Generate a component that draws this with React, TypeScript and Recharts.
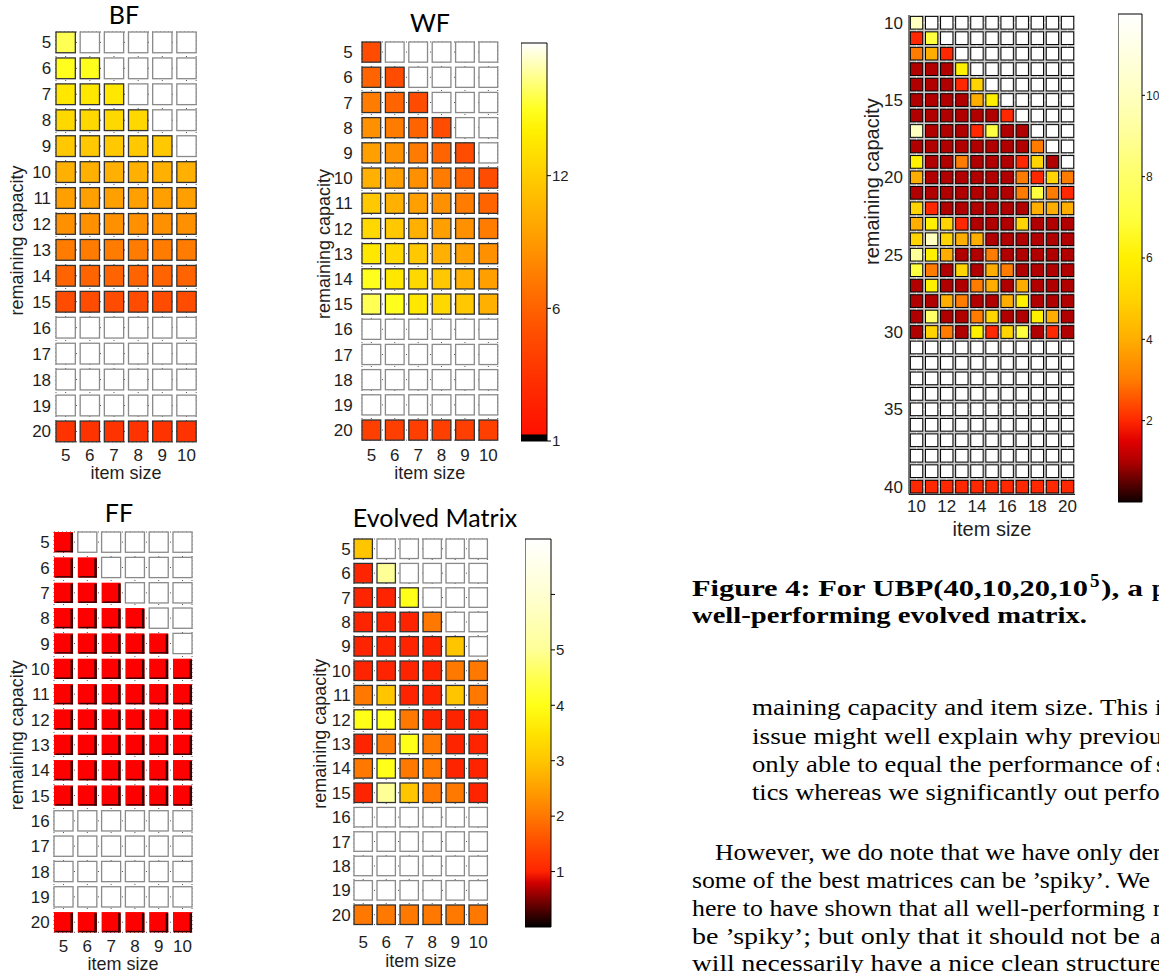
import React from 'react';
import { ScatterChart, Scatter, XAxis, YAxis, CartesianGrid, BarChart, Bar } from 'recharts';

type Val = number | null;
const N = null;

// small matrices: columns = item size, rows = remaining capacity
const smallItemSizes = [5, 6, 7, 8, 9, 10];
const smallCapacities = [5, 6, 7, 8, 9, 10, 11, 12, 13, 14, 15, 16, 17, 18, 19, 20];

const bfValues: Val[][] = [
  [15.7, N, N, N, N, N],
  [14.9, 14.9, N, N, N, N],
  [13.5, 13.5, 13.5, N, N, N],
  [12.6, 12.6, 12.6, 12.6, N, N],
  [11.7, 11.7, 11.7, 11.7, 11.7, N],
  [10.3, 10.3, 10.3, 10.3, 10.3, 10.3],
  [9.3, 9.3, 9.3, 9.3, 9.3, 9.3],
  [8.5, 8.5, 8.5, 8.5, 8.5, 8.5],
  [7.4, 7.4, 7.4, 7.4, 7.4, 7.4],
  [6.1, 6.1, 6.1, 6.1, 6.1, 6.1],
  [4.7, 4.7, 4.7, 4.7, 4.7, 4.7],
  [N, N, N, N, N, N],
  [N, N, N, N, N, N],
  [N, N, N, N, N, N],
  [N, N, N, N, N, N],
  [3, 3, 3, 3, 3, 3],
];

const wfValues: Val[][] = [
  [4.7, N, N, N, N, N],
  [6.1, 4.7, N, N, N, N],
  [7.4, 6.1, 4.7, N, N, N],
  [8.5, 7.4, 6.1, 4.7, N, N],
  [9.3, 8.5, 7.4, 6.1, 4.7, N],
  [10.3, 9.3, 8.5, 7.4, 6.1, 4.7],
  [11.7, 10.3, 9.3, 8.5, 7.4, 6.1],
  [12.6, 11.7, 10.3, 9.3, 8.5, 7.4],
  [13.5, 12.6, 11.7, 10.3, 9.3, 8.5],
  [14.9, 13.5, 12.6, 11.7, 10.3, 9.3],
  [15.7, 14.9, 13.5, 12.6, 11.7, 10.3],
  [N, N, N, N, N, N],
  [N, N, N, N, N, N],
  [N, N, N, N, N, N],
  [N, N, N, N, N, N],
  [3.8, 3.8, 3.8, 3.8, 3.8, 3.8],
];

const ffValues: Val[][] = [
  [1, N, N, N, N, N],
  [1, 1, N, N, N, N],
  [1, 1, 1, N, N, N],
  [1, 1, 1, 1, N, N],
  [1, 1, 1, 1, 1, N],
  [1, 1, 1, 1, 1, 1],
  [1, 1, 1, 1, 1, 1],
  [1, 1, 1, 1, 1, 1],
  [1, 1, 1, 1, 1, 1],
  [1, 1, 1, 1, 1, 1],
  [1, 1, 1, 1, 1, 1],
  [N, N, N, N, N, N],
  [N, N, N, N, N, N],
  [N, N, N, N, N, N],
  [N, N, N, N, N, N],
  [1, 1, 1, 1, 1, 1],
];

const evolvedValues: Val[][] = [
  [3, N, N, N, N, N],
  [1, 5, N, N, N, N],
  [1, 1, 4, N, N, N],
  [1, 1, 1, 2, N, N],
  [1, 1, 1, 1, 3, N],
  [1, 1, 1, 1, 2, 2],
  [2, 3, 1, 1, 3, 2],
  [4, 4, 2, 1, 1, 1],
  [1, 2, 4, 2, 1, 1],
  [2, 4, 2, 2, 1, 1],
  [1, 5, 3, 2, 2, 1],
  [N, N, N, N, N, N],
  [N, N, N, N, N, N],
  [N, N, N, N, N, N],
  [N, N, N, N, N, N],
  [2, 2, 2, 2, 2, 2],
];

// large matrix, UBP(40,10,20,10^5)
const bigItemSizes = [10, 11, 12, 13, 14, 15, 16, 17, 18, 19, 20];
const bigCapacities = [
  10, 11, 12, 13, 14, 15, 16, 17, 18, 19, 20, 21, 22, 23, 24, 25,
  26, 27, 28, 29, 30, 31, 32, 33, 34, 35, 36, 37, 38, 39, 40,
];
const bigValues: Val[][] = [
  [10, N, N, N, N, N, N, N, N, N, N],
  [2, 7, N, N, N, N, N, N, N, N, N],
  [3, 4, 2, N, N, N, N, N, N, N, N],
  [1, 1, 1, 6, N, N, N, N, N, N, N],
  [1, 1, 1, 2, 5, N, N, N, N, N, N],
  [1, 1, 1, 1, 4, 6, N, N, N, N, N],
  [1, 1, 1, 1, 1, 1, 2, N, N, N, N],
  [10, 1, 1, 1, 2, 7, 1, 1, N, N, N],
  [1, 1, 1, 1, 1, 1, 1, 1, 3, N, N],
  [6, 1, 1, 3, 1, 1, 1, 2, 5, 1, N],
  [4, 1, 1, 1, 1, 1, 1, 3, 2, 5, 3],
  [1, 1, 1, 1, 1, 1, 1, 3, 7, 3, 2],
  [5, 2, 1, 1, 1, 1, 1, 1, 4, 4, 4],
  [4, 6, 5, 2, 1, 1, 1, 5, 1, 1, 1],
  [5, 10, 5, 4, 4, 1, 1, 1, 1, 1, 1],
  [9, 6, 4, 1, 1, 3, 1, 1, 1, 1, 1],
  [7, 3, 1, 5, 1, 4, 3, 1, 1, 1, 1],
  [1, 6, 1, 1, 3, 4, 1, 4, 1, 1, 1],
  [1, 1, 4, 3, 1, 1, 4, 6, 1, 1, 1],
  [1, 8, 1, 1, 3, 5, 1, 1, 6, 4, 1],
  [1, 5, 3, 1, 6, 2, 5, 7, 1, 2, 1],
  [N, N, N, N, N, N, N, N, N, N, N],
  [N, N, N, N, N, N, N, N, N, N, N],
  [N, N, N, N, N, N, N, N, N, N, N],
  [N, N, N, N, N, N, N, N, N, N, N],
  [N, N, N, N, N, N, N, N, N, N, N],
  [N, N, N, N, N, N, N, N, N, N, N],
  [N, N, N, N, N, N, N, N, N, N, N],
  [N, N, N, N, N, N, N, N, N, N, N],
  [N, N, N, N, N, N, N, N, N, N, N],
  [2, 2, 2, 2, 2, 2, 2, 2, 2, 2, 2],
];

// tick labels
const smallXTicks = [5, 6, 7, 8, 9, 10];
const smallYTicks = [5, 6, 7, 8, 9, 10, 11, 12, 13, 14, 15, 16, 17, 18, 19, 20];
const bigXTicks = [10, 12, 14, 16, 18, 20];
const bigYTicks = [10, 15, 20, 25, 30, 35, 40];
const wfBarTicks = [0, 6, 12];
const wfBarLabels = ['1', '6', '12'];
const evoBarTicks = [1, 2, 3, 4, 5, 6];
const evoBarLabels = ['1', '2', '3', '4', '5', ''];
const bigBarTicks = [2, 4, 6, 8, 10];
const bigBarLabels = ['2', '4', '6', '8', '10'];

type Stop = [number, string];
const WF_MAX = 18;
const wfStops: Stop[] = [
  [0, '#000000'], [0.27, '#000000'], [0.32, '#ff1000'], [3, '#ff3300'], [5, '#ff5000'],
  [7, '#ff7400'], [9, '#ff9a00'], [11, '#ffbc00'], [12.5, '#ffd600'], [14, '#fff000'],
  [15, '#ffff20'], [16.5, '#ffff90'], [18, '#ffffff'],
];
const EVO_MAX = 7;
const evoStops: Stop[] = [
  [0, '#000000'], [0.5, '#800000'], [0.8, '#d00000'], [1, '#ff2400'], [1.5, '#ff4c00'],
  [2, '#ff7800'], [2.5, '#ffa000'], [3, '#ffc600'], [3.5, '#ffe400'], [4, '#ffff18'],
  [4.5, '#ffff50'], [5, '#ffff98'], [6, '#ffffd2'], [7, '#ffffff'],
];
const BIG_MAX = 12;
const bigStops: Stop[] = [
  [0, '#100000'], [0.5, '#600000'], [1, '#b00000'], [1.5, '#e00000'], [2, '#ff2800'],
  [3, '#ff7c00'], [4, '#ffae00'], [5, '#ffd400'], [6, '#fff000'], [7, '#ffff40'],
  [8, '#ffff68'], [9, '#ffff98'], [10, '#ffffc0'], [11, '#ffffe0'], [12, '#ffffff'],
];

const SANS = '"Liberation Sans", Arial, sans-serif';
const SERIF = '"Liberation Serif", "Times New Roman", serif';
const TITLE = 'Lato, "Open Sans", sans-serif';
const INK = '#1e1e1e';

const rgb = (h: string) => [1, 3, 5].map(i => parseInt(h.slice(i, i + 2), 16));

const colorScale = (stops: Stop[]) => (v: number) => {
  if (v <= stops[0][0]) return stops[0][1];
  for (let i = 1; i < stops.length; i++) {
    const [v1, c1] = stops[i];
    if (v <= v1) {
      const [v0, c0] = stops[i - 1];
      const t = (v - v0) / (v1 - v0);
      const a = rgb(c0);
      const b = rgb(c1);
      const m = a.map((x, k) => Math.round(x + (b[k] - x) * t));
      return `rgb(${m[0]},${m[1]},${m[2]})`;
    }
  }
  return stops[stops.length - 1][1];
};

type HeatProps = {
  plot: { x: number; y: number; w: number; h: number };
  xs: number[];
  ys: number[];
  values: Val[][];
  xTicks: number[];
  yTicks: number[];
  color: (v: number) => string;
  yAxisW: number;
  xAxisH: number;
  padTop: number;
  padRight: number;
  yTickGap: number;
  xTickGap: number;
  tickFont: number;
  labelFont: number;
  yLabelX: number;
  yLabelY: number;
  xLabelBase: number;
  cellFrac: number;
  shadow?: boolean;
  big?: boolean;
};

const Heatmap = (p: HeatProps) => {
  const pitchX = p.plot.w / p.xs.length;
  const pitchY = p.plot.h / p.ys.length;
  // small charts: trim the plot to the outer cell edges so grid dots only show between cells
  const d = p.big ? 0 : (1 - p.cellFrac) / 2;
  const inX = d * pitchX;
  const inY = d * pitchY;
  const plotX = p.plot.x + inX;
  const plotY = p.plot.y + inY;
  const plotW = p.plot.w - 2 * inX;
  const plotH = p.plot.h - 2 * inY;

  const left = plotX - p.yAxisW;
  const top = plotY - p.padTop;
  const width = p.yAxisW + plotW + p.padRight;
  const height = p.padTop + plotH + p.xAxisH;
  const cw = pitchX * p.cellFrac;
  const ch = pitchY * p.cellFrac;
  const cells = p.ys.flatMap((y, r) => p.xs.map((x, c) => ({ x, y, v: p.values[r][c] })));
  const textStyle = { fill: INK, fontFamily: SANS };
  const lx = p.yLabelX - left;
  const ly = p.yLabelY - top;

  const shape = (s: any) => {
    const { cx, cy, payload } = s;
    if (cx == null || cy == null) return <g />;
    const v: Val = payload.v;
    const empty = v === null;
    const x0 = cx - cw / 2;
    const y0 = cy - ch / 2;
    if (p.shadow && !empty) {
      return (
        <g>
          <rect x={x0} y={y0} width={cw} height={ch} fill={p.color(v as number)} />
          <rect x={x0 + cw - 2.5} y={y0 + 1} width={2.5} height={ch - 1} fill="#3a0000" />
          <rect x={x0 + 1} y={y0 + ch - 1.5} width={cw - 1} height={1.5} fill="#3a0000" />
        </g>
      );
    }
    return (
      <rect
        x={x0}
        y={y0}
        width={cw}
        height={ch}
        fill={empty ? '#ffffff' : p.color(v as number)}
        stroke={p.big ? '#000' : empty ? '#8a8a8a' : '#333'}
        strokeWidth={p.big ? 1 : 1.3}
      />
    );
  };

  return (
    <div style={{ position: 'absolute', left, top }}>
      <ScatterChart
        width={width}
        height={height}
        margin={{ top: p.padTop, right: p.padRight, bottom: 0, left: 0 }}
      >
        <CartesianGrid
          stroke={p.big ? '#ffffff' : '#555'}
          strokeDasharray={p.big ? undefined : '1 3'}
          fill={p.big ? '#c8c8c8' : 'none'}
        />
        <XAxis
          type="number"
          dataKey="x"
          domain={[p.xs[0] - 0.5 + d, p.xs[p.xs.length - 1] + 0.5 - d]}
          ticks={p.xTicks}
          interval={0}
          height={p.xAxisH}
          axisLine={p.big ? { stroke: '#000' } : false}
          tickLine={false}
          tickSize={0}
          tickMargin={p.xTickGap + inY}
          tick={{ ...textStyle, fontSize: p.tickFont }}
          label={{
            value: 'item size',
            position: 'insideBottom',
            offset: top + height - p.xLabelBase,
            ...textStyle,
            fontSize: p.labelFont,
          }}
        />
        <YAxis
          type="number"
          dataKey="y"
          reversed
          domain={[p.ys[0] - 0.5 + d, p.ys[p.ys.length - 1] + 0.5 - d]}
          ticks={p.yTicks}
          interval={0}
          width={p.yAxisW}
          axisLine={p.big ? { stroke: '#000' } : false}
          tickLine={false}
          tickSize={0}
          tickMargin={p.yTickGap + inX}
          tick={{ ...textStyle, fontSize: p.tickFont }}
          label={{
            value: 'remaining capacity',
            content: () => (
              <text
                x={lx}
                y={ly}
                transform={`rotate(-90 ${lx} ${ly})`}
                textAnchor="middle"
                dominantBaseline="central"
                fill={INK}
                fontFamily={SANS}
                fontSize={p.labelFont}
              >
                remaining capacity
              </text>
            ),
          }}
        />
        <Scatter data={cells} shape={shape} isAnimationActive={false} />
      </ScatterChart>
    </div>
  );
};

type BarProps = {
  id: string;
  x: number;
  y: number;
  w: number;
  h: number;
  max: number;
  stops: Stop[];
  ticks: number[];
  labels: string[];
  axisW: number;
  fontSize: number;
  tickSize?: number;
};

const ColorBar = (p: BarProps) => {
  const data = [{ name: 'bar', v: p.max }];
  return (
    <div style={{ position: 'absolute', left: p.x, top: p.y - 10 }}>
      <BarChart
        width={p.w + p.axisW}
        height={p.h + 20}
        data={data}
        margin={{ top: 10, right: 0, bottom: 10, left: 0 }}
        barCategoryGap={0}
      >
        <defs>
          <linearGradient id={p.id} x1="0" y1="1" x2="0" y2="0">
            {p.stops.map(([v, c]) => (
              <stop key={v} offset={v / p.max} stopColor={c} />
            ))}
          </linearGradient>
        </defs>
        <XAxis dataKey="name" hide />
        <YAxis
          yAxisId="l"
          orientation="left"
          width={0}
          mirror
          domain={[0, p.max]}
          ticks={p.ticks}
          interval={0}
          axisLine={false}
          tick={false}
          tickSize={4}
          tickLine={{ stroke: '#000' }}
        />
        <YAxis
          yAxisId="r"
          orientation="right"
          width={p.axisW}
          domain={[0, p.max]}
          ticks={p.ticks}
          interval={0}
          axisLine={false}
          tickSize={p.tickSize ?? 4}
          tickMargin={1}
          tickLine={{ stroke: '#000' }}
          tickFormatter={(v: number) => p.labels[p.ticks.indexOf(v)] ?? ''}
          tick={{ fill: INK, fontSize: p.fontSize, fontFamily: SANS }}
        />
        <Bar
          yAxisId="r"
          dataKey="v"
          fill={`url(#${p.id})`}
          stroke="#000"
          strokeWidth={1}
          isAnimationActive={false}
        />
      </BarChart>
    </div>
  );
};

const wfColor = colorScale(wfStops);
const evoColor = colorScale(evoStops);
const bigColor = colorScale(bigStops);
const ffColor = () => '#ff0000';

const smallCommon = {
  xs: smallItemSizes,
  ys: smallCapacities,
  xTicks: smallXTicks,
  yTicks: smallYTicks,
  tickFont: 17,
  labelFont: 18,
  cellFrac: 0.8,
};

export default function App() {
  return (
    <div
      style={{
        position: 'absolute',
        left: 0,
        top: 0,
        width: 1159,
        height: 973,
        overflow: 'hidden',
        background: '#ffffff',
      }}
    >
      <Heatmap
        {...smallCommon}
        plot={{ x: 54, y: 29, w: 145, h: 415 }}
        values={bfValues}
        color={wfColor}
        yAxisW={54}
        xAxisH={50}
        padTop={10}
        padRight={6}
        yTickGap={2.5}
        xTickGap={5}
        yLabelX={17}
        yLabelY={240}
        xLabelBase={479}
      />
      <Heatmap
        {...smallCommon}
        plot={{ x: 359.3, y: 39.4, w: 140.4, h: 403.2 }}
        values={wfValues}
        color={wfColor}
        yAxisW={54}
        xAxisH={50}
        padTop={10}
        padRight={6}
        yTickGap={7}
        xTickGap={6}
        yLabelX={324}
        yLabelY={244}
        xLabelBase={479}
      />
      <ColorBar
        id="wfBar"
        x={521}
        y={43}
        w={26}
        h={398}
        max={WF_MAX}
        stops={wfStops}
        ticks={wfBarTicks}
        labels={wfBarLabels}
        axisW={30}
        fontSize={15}
      />
      <Heatmap
        {...smallCommon}
        plot={{ x: 52.1, y: 529.3, w: 142.8, h: 405.4 }}
        values={ffValues}
        color={ffColor}
        shadow
        yAxisW={52}
        xAxisH={41}
        padTop={10}
        padRight={6}
        yTickGap={2}
        xTickGap={5}
        yLabelX={17}
        yLabelY={735}
        xLabelBase={970}
      />
      <Heatmap
        {...smallCommon}
        plot={{ x: 351.5, y: 536.8, w: 138, h: 390.4 }}
        values={evolvedValues}
        color={evoColor}
        yAxisW={52}
        xAxisH={48}
        padTop={10}
        padRight={6}
        yTickGap={1}
        xTickGap={9}
        yLabelX={320}
        yLabelY={734}
        xLabelBase={967}
      />
      <ColorBar
        id="evoBar"
        x={525}
        y={539}
        w={26}
        h={388}
        max={EVO_MAX}
        stops={evoStops}
        ticks={evoBarTicks}
        labels={evoBarLabels}
        axisW={30}
        fontSize={15}
      />
      <Heatmap
        plot={{ x: 909.45, y: 15.3, w: 166.1, h: 479.4 }}
        xs={bigItemSizes}
        ys={bigCapacities}
        values={bigValues}
        xTicks={bigXTicks}
        yTicks={bigYTicks}
        color={bigColor}
        big
        tickFont={17}
        labelFont={20}
        cellFrac={0.82}
        yAxisW={52}
        xAxisH={45}
        padTop={10}
        padRight={4}
        yTickGap={6}
        xTickGap={5.5}
        yLabelX={872}
        yLabelY={182}
        xLabelBase={536}
      />
      <ColorBar
        id="bigBar"
        x={1118}
        y={14}
        w={24}
        h={488}
        max={BIG_MAX}
        stops={bigStops}
        ticks={bigBarTicks}
        labels={bigBarLabels}
        axisW={17}
        fontSize={12}
        tickSize={3}
      />

      <svg
        width={1159}
        height={973}
        style={{ position: 'absolute', left: 0, top: 0, pointerEvents: 'none' }}
      >
        <g fontFamily={TITLE} fill="#000" textAnchor="middle">
          <text x={124} y={24} fontSize={25}>BF</text>
          <text x={430} y={32} fontSize={25}>WF</text>
          <text x={119} y={522} fontSize={25}>FF</text>
          <text x={435} y={527} fontSize={25}>Evolved Matrix</text>
        </g>
        <g fontFamily={SERIF} fill="#000" fontWeight="bold" fontSize={24}>
          <text x={692} y={596} textLength={396} lengthAdjust="spacingAndGlyphs">
            Figure 4:  For UBP(40,10,20,10
          </text>
          <text x={1090} y={587} fontSize={19}>5</text>
          <text x={1101} y={596} textLength={42} lengthAdjust="spacingAndGlyphs">), a</text>
          <text x={1152} y={596}>p</text>
          <text x={692} y={623} textLength={395} lengthAdjust="spacingAndGlyphs">
            well-performing evolved matrix.
          </text>
        </g>
        <g fontFamily={SERIF} fill="#000" fontSize={24}>
          <text x={752} y={715} textLength={396} lengthAdjust="spacingAndGlyphs">
            maining capacity and item size. This
          </text>
          <text x={1155} y={715}>is</text>
          <text x={752} y={743.5} textLength={421} lengthAdjust="spacingAndGlyphs">
            issue might well explain why previous
          </text>
          <text x={752} y={771.5} textLength={400} lengthAdjust="spacingAndGlyphs">
            only able to equal the performance of
          </text>
          <text x={1156} y={771.5}>some</text>
          <text x={752} y={800} textLength={437} lengthAdjust="spacingAndGlyphs">
            tics whereas we significantly out perform
          </text>
          <text x={715} y={860} textLength={438} lengthAdjust="spacingAndGlyphs">
            However, we do note that we have only de
          </text>
          <text x={1153} y={860}>m</text>
          <text x={692} y={888} textLength={458} lengthAdjust="spacingAndGlyphs">
            some of the best matrices can be ’spiky’. We
          </text>
          <text x={692} y={916} textLength={453} lengthAdjust="spacingAndGlyphs">
            here to have shown that all well-performing
          </text>
          <text x={1153} y={916}>m</text>
          <text x={692} y={943.5} textLength={448} lengthAdjust="spacingAndGlyphs">
            be ’spiky’; but only that it should not be
          </text>
          <text x={1150} y={943.5}>a</text>
          <text x={692} y={971} textLength={470} lengthAdjust="spacingAndGlyphs">
            will necessarily have a nice clean structure
          </text>
        </g>
      </svg>
    </div>
  );
}
